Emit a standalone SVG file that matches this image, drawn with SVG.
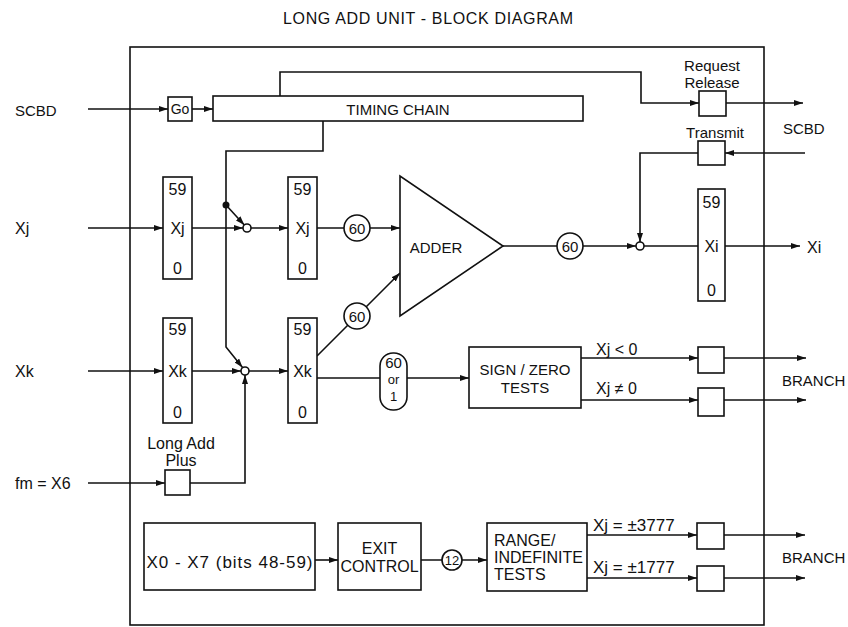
<svg xmlns="http://www.w3.org/2000/svg" width="848" height="627" viewBox="0 0 848 627">
<style>
.l{stroke:#111;stroke-width:1.6;fill:none}
.b{fill:#fff;stroke:#111;stroke-width:1.6}
text{font-family:"Liberation Sans",Arial,sans-serif;fill:#111;dominant-baseline:central}
.c{text-anchor:middle}
.s16{font-size:16px}
.s15{font-size:15px}
.s14{font-size:14px}
.s13{font-size:13px}
</style>
<defs>
<marker id="a" markerUnits="userSpaceOnUse" markerWidth="9" markerHeight="6" refX="9" refY="3" orient="auto">
<path d="M0,0 L9,3 L0,6 z" fill="#111"/>
</marker>
</defs>
<rect width="848" height="627" fill="#fff"/>
<text x="428" y="18" class="c" font-size="16" textLength="290" lengthAdjust="spacing">LONG ADD UNIT - BLOCK DIAGRAM</text>
<rect id="frame" x="130" y="47" width="634" height="578" class="l"/>

<g id="connectors" class="l">
<path d="M88,109 H168" marker-end="url(#a)"/>
<path d="M192,109 H213" marker-end="url(#a)"/>
<path d="M280,96 V72 H641 V103 H699" marker-end="url(#a)"/>
<path d="M726,103 H803" marker-end="url(#a)"/>
<path d="M805,153 H725" marker-end="url(#a)"/>
<path d="M698,153 H640 V242" marker-end="url(#a)"/>
<path d="M323,121 V151 H226 V347 L242.5,367.5" marker-end="url(#a)"/>
<path d="M226,205 L244.3,225" marker-end="url(#a)"/>
<path d="M88,228 H163" marker-end="url(#a)"/>
<path d="M192,228 H243" marker-end="url(#a)"/>
<path d="M251,228 H288" marker-end="url(#a)"/>
<path d="M317,228 H400" marker-end="url(#a)"/>
<path d="M88,371 H163" marker-end="url(#a)"/>
<path d="M192,371 H241" marker-end="url(#a)"/>
<path d="M249,371 H288" marker-end="url(#a)"/>
<path d="M190,483 H245 V375" marker-end="url(#a)"/>
<path d="M88,483 H165" marker-end="url(#a)"/>
<path d="M317,356 L400,273" marker-end="url(#a)"/>
<path d="M317,378 H380"/>
<path d="M407,378 H469" marker-end="url(#a)"/>
<path d="M503,246 H636" marker-end="url(#a)"/>
<path d="M644,246 H698"/>
<path d="M725,246 H800" marker-end="url(#a)"/>
<path d="M581,358 H698" marker-end="url(#a)"/>
<path d="M724,358 H806" marker-end="url(#a)"/>
<path d="M581,400 H698" marker-end="url(#a)"/>
<path d="M724,400 H806" marker-end="url(#a)"/>
<path d="M315,560 H338" marker-end="url(#a)"/>
<path d="M421,560 H487" marker-end="url(#a)"/>
<path d="M587,535 H697" marker-end="url(#a)"/>
<path d="M724,535 H805" marker-end="url(#a)"/>
<path d="M587,578 H697" marker-end="url(#a)"/>
<path d="M724,578 H805" marker-end="url(#a)"/>
<circle cx="226" cy="205" r="3.5" fill="#111" stroke="none"/>
</g>

<g id="labels">
<text x="15" y="110" class="s15">SCBD</text>
<text x="15" y="228" class="s16">Xj</text>
<text x="15" y="371" class="s16">Xk</text>
<text x="15" y="483" class="s16">fm = X6</text>
<text x="807" y="247" class="s16">Xi</text>
<text x="783" y="128" class="s15">SCBD</text>
<text x="782" y="380" class="s15">BRANCH</text>
<text x="782" y="557" class="s15">BRANCH</text>
<text x="596" y="349" class="s16">Xj &lt; 0</text>
<text x="596" y="388" class="s16">Xj ≠ 0</text>
<text x="593" y="525" font-size="17">Xj = ±3777</text>
<text x="593" y="567" font-size="17">Xj = ±1777</text>
</g>

<g id="go"><rect x="168" y="97" width="24" height="24" class="b"/><text x="180" y="109" class="c s14">Go</text></g>
<g id="timing-chain"><rect x="213" y="96" width="370" height="25" class="b"/><text x="398" y="109" class="c s15">TIMING CHAIN</text></g>
<g id="request-release"><rect x="699" y="91" width="27" height="25" class="b"/><text x="712" y="65" class="c s15">Request</text><text x="712" y="82" class="c s15">Release</text></g>
<g id="transmit"><rect x="698" y="141" width="27" height="24" class="b"/><text x="715" y="132" class="c s15">Transmit</text></g>

<g id="xj-in"><rect x="163" y="177" width="29" height="102" class="b"/><text x="177.5" y="189" class="c s16">59</text><text x="177.5" y="228" class="c s16">Xj</text><text x="177.5" y="268" class="c s16">0</text></g>
<g id="xj-reg"><rect x="288" y="177" width="29" height="102" class="b"/><text x="302.5" y="189" class="c s16">59</text><text x="302.5" y="228" class="c s16">Xj</text><text x="302.5" y="268" class="c s16">0</text></g>
<g id="xk-in"><rect x="163" y="318" width="29" height="105" class="b"/><text x="177.5" y="329" class="c s16">59</text><text x="177.5" y="371" class="c s16">Xk</text><text x="177.5" y="412" class="c s16">0</text></g>
<g id="xk-reg"><rect x="288" y="318" width="29" height="105" class="b"/><text x="302.5" y="329" class="c s16">59</text><text x="302.5" y="371" class="c s16">Xk</text><text x="302.5" y="412" class="c s16">0</text></g>
<g id="xi-reg"><rect x="698" y="189" width="27" height="112" class="b"/><text x="711.5" y="202" class="c s16">59</text><text x="711.5" y="246" class="c s16">Xi</text><text x="711.5" y="290" class="c s16">0</text></g>

<g id="sw-xj"><circle cx="247" cy="228" r="4" class="b"/></g>
<g id="sw-xk"><circle cx="245" cy="371" r="4" class="b"/></g>
<g id="sw-xi"><circle cx="640" cy="246" r="4" class="b"/></g>

<g id="w60-j"><circle cx="357" cy="228" r="13" class="b"/><text x="357" y="228" class="c s15">60</text></g>
<g id="w60-k"><circle cx="357" cy="316" r="13" class="b"/><text x="357" y="316" class="c s15">60</text></g>
<g id="w60-out"><circle cx="570" cy="246" r="13" class="b"/><text x="570" y="246" class="c s15">60</text></g>

<g id="adder"><polygon points="400,176 400,316 503,246" class="b"/><text x="436" y="247" class="c s15">ADDER</text></g>
<g id="w60or1"><rect x="380" y="353" width="27" height="57" rx="13" class="b"/><text x="393.5" y="362" class="c s15">60</text><text x="393.5" y="379" class="c s13">or</text><text x="393.5" y="396" class="c s13">1</text></g>
<g id="sign-zero"><rect x="469" y="347" width="112" height="61" class="b"/><text x="525" y="369" class="c s15">SIGN / ZERO</text><text x="525" y="387" class="c s15">TESTS</text></g>
<g id="br1"><rect x="698" y="347" width="26" height="26" class="b"/></g>
<g id="br2"><rect x="698" y="388" width="26" height="28" class="b"/></g>
<g id="long-add-plus"><rect x="165" y="470" width="25" height="25" class="b"/><text x="181" y="443" class="c s16">Long Add</text><text x="181" y="460" class="c s16">Plus</text></g>

<g id="x0-x7"><rect x="144" y="523" width="171" height="67" class="b"/><text x="229.5" y="562" class="c" font-size="17" textLength="166" lengthAdjust="spacing">X0 - X7 (bits 48-59)</text></g>
<g id="exit-control"><rect x="338" y="523" width="83" height="67" class="b"/><text x="379.5" y="548" class="c s16">EXIT</text><text x="379.5" y="566" class="c s16">CONTROL</text></g>
<g id="w12"><circle cx="452" cy="560" r="10" class="b"/><text x="452" y="560" class="c s13">12</text></g>
<g id="range-tests"><rect x="487" y="523" width="100" height="68" class="b"/><text x="494" y="540" class="s16">RANGE/</text><text x="494" y="557" class="s16">INDEFINITE</text><text x="494" y="574" class="s16">TESTS</text></g>
<g id="br3"><rect x="697" y="523" width="27" height="26" class="b"/></g>
<g id="br4"><rect x="697" y="566" width="27" height="25" class="b"/></g>
</svg>
